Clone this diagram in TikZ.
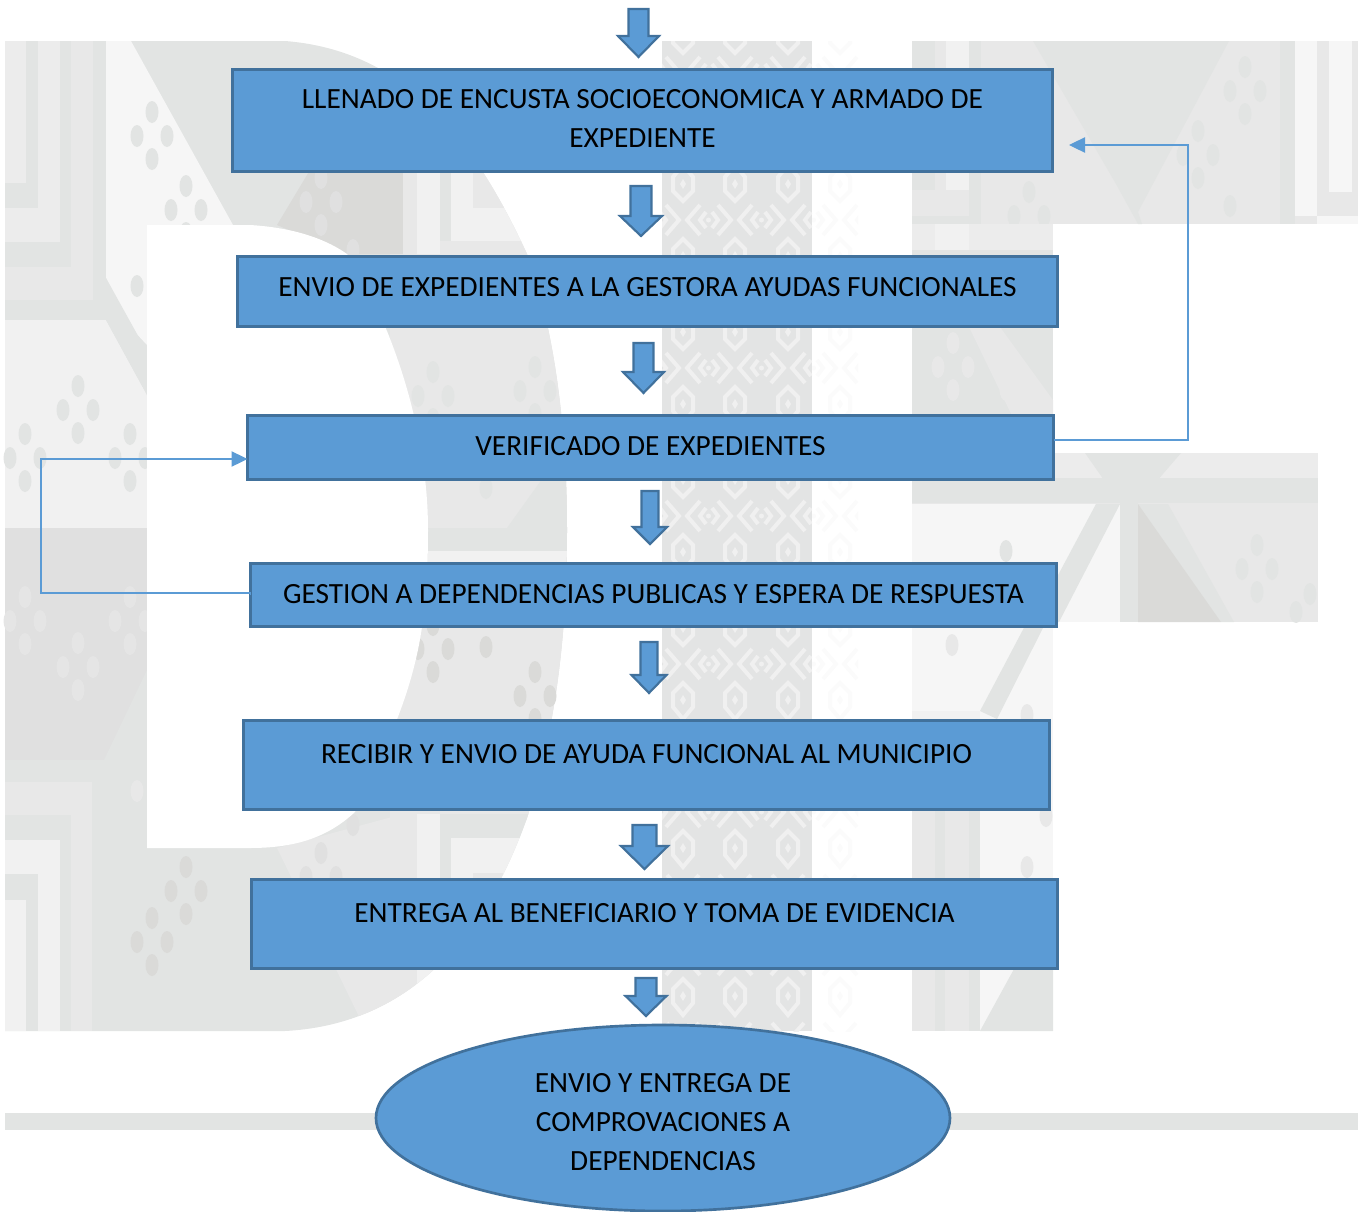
\documentclass[tikz,border=0pt]{standalone}
\usepackage{fontspec}
\setmainfont{Carlito}
\usetikzlibrary{shapes.geometric,arrows.meta}
\definecolor{gA}{HTML}{E2E4E3}
\definecolor{gB}{HTML}{ECECEC}
\definecolor{gC}{HTML}{F6F6F6}
\definecolor{gD}{HTML}{DADAD8}
\definecolor{gE}{HTML}{E8E8E8}
\definecolor{gF}{HTML}{F1F1F1}
\definecolor{gG}{HTML}{E0E0E0}
\definecolor{gH}{HTML}{E5E5E5}
\definecolor{band}{HTML}{E3E4E4}
\definecolor{motif}{HTML}{F0F0F0}
\definecolor{faint}{HTML}{FBFBFB}
\definecolor{boxfill}{HTML}{5B9BD5}
\definecolor{boxline}{HTML}{41719C}
\newcommand\px[1]{#1*0.75pt}
\newcommand\bg[2]{\fill[#1] #2;}
\newcommand\spot[3]{\fill[#1] (#2,#3) ellipse [x radius=6.5,y radius=11];}
\newcommand\clus[3]{\spot{#1}{#2}{#3}\spot{#1}{#2-15}{#3+24}\spot{#1}{#2+15}{#3+24}\spot{#1}{#2}{#3+47}}
\newcommand\blockarrow[6]{\draw[blockarrowstyle] (#1-#2,#4) -- (#1+#2,#4) -- (#1+#2,#5) -- (#1+#3,#5) -- (#1,#6) -- (#1-#3,#5) -- (#1-#2,#5) -- cycle;}
\newcommand\boxtext[2]{\raisebox{\dimexpr#1-6.6pt\relax}[0pt][0pt]{\fontsize{22}{29.25}\selectfont\begin{tabular}{@{}c@{}}#2\end{tabular}}}
\newcommand\motifat[3]{%
 \begin{scope}[shift={(#1,#2)},draw=#3,fill=#3,line width=3pt]
  \draw (-17,-15) -- (-4,0) -- (-17,15);
  \draw (17,-15) -- (4,0) -- (17,15);
  \draw (-23,-8) -- (-17,0) -- (-23,8);
  \draw (23,-8) -- (17,0) -- (23,8);
  \foreach \s in {1,-1}{
   \draw (0,\s*19) -- (10,\s*29) -- (10,\s*43) -- (0,\s*55) -- (-10,\s*43) -- (-10,\s*29) -- cycle;
   \fill (0,\s*31) -- (3,\s*36) -- (0,\s*41) -- (-3,\s*36) -- cycle;
   \draw (-16,\s*63) -- (-6,\s*74);
   \draw (16,\s*63) -- (6,\s*74);
  }
  \fill (-26.5,0) circle [radius=2.5];
 \end{scope}}
\tikzset{
 flowbox/.style={rectangle,draw=boxline,fill=boxfill,line width=2.2pt,inner sep=0pt,outer sep=0pt,text=black},
 flowend/.style={ellipse,draw=boxline,fill=boxfill,line width=2pt,inner sep=0pt,outer sep=0pt,text=black},
 blockarrowstyle/.style={draw=boxline,fill=boxfill,line width=1.6pt,line join=miter},
 feedback/.style={draw=boxfill,line width=0.85pt,-{Triangle[length=12pt,width=11.5pt,color=boxfill]}}
}
\begin{document}
\begin{tikzpicture}[x=0.75pt,y=-0.75pt]
\useasboundingbox (0,0) rectangle (1361,1211);
% ---------- watermark: D
\fill[gA] (5,41) -- (285,41) .. controls (400,50) and (470,130) .. (527,254) .. controls (555,330) and (567,430) .. (567,530) .. controls (567,640) and (555,730) .. (527,818) .. controls (480,950) and (400,1025) .. (285,1031) -- (5,1031) -- cycle;
\begin{scope}
\clip (5,41) -- (285,41) .. controls (400,50) and (470,130) .. (527,254) .. controls (555,330) and (567,430) .. (567,530) .. controls (567,640) and (555,730) .. (527,818) .. controls (480,950) and (400,1025) .. (285,1031) -- (5,1031) -- cycle;
\bg{gE}{(390,254) rectangle (570,820)}
\bg{gA}{(428,528) -- (507,528) -- (570,440) -- (570,563) -- (428,563) -- cycle}
\bg{gF}{(428,551) rectangle (570,563)}
\bg{gD}{(277,225) -- (310,170) -- (403,170) -- (403,254) -- (345,254) -- cycle}
\bg{gE}{(403,172) rectangle (417,254)}
\bg{gF}{(417,172) rectangle (440,254)}
\bg{gA}{(440,172) rectangle (451,254)}
\bg{gF}{(451,172) rectangle (530,254)}
\bg{gE}{(473,172) rectangle (507,208)}
\bg{gE}{(440,241) rectangle (530,254)}
\bg{gE}{(277,848) -- (403,814) -- (403,1031) -- (366,1031) -- cycle}
\bg{gE}{(403,814) rectangle (417,1000)}
\bg{gF}{(417,814) rectangle (440,1000)}
\bg{gA}{(440,814) rectangle (530,838)}
\bg{gF}{(451,838) rectangle (530,1000)}
\bg{gE}{(473,873) rectangle (503,1000)}
\end{scope}
% left stripes top
\bg{gB}{(5,41) rectangle (26,183)}
\bg{gA}{(26,41) rectangle (38,208)}
\bg{gA}{(5,183) rectangle (38,208)}
\bg{gB}{(38,41) rectangle (60,242)}
\bg{gB}{(5,208) rectangle (60,242)}
\bg{gA}{(60,41) rectangle (71,267)}
\bg{gA}{(5,242) rectangle (71,267)}
\bg{gE}{(71,41) rectangle (93,300)}
\bg{gE}{(5,267) rectangle (93,300)}
\bg{gA}{(93,41) rectangle (106,320)}
\bg{gA}{(5,300) rectangle (106,320)}
% light triangle
\bg{gC}{(106,41) -- (131,41) -- (233,225) -- (147,225) -- (147,345) -- (133,330) -- (106,278) -- cycle}
% panels below
\bg{gF}{(5,320) -- (106,320) -- (147,395) -- (147,528) -- (5,528) -- cycle}
\bg{gA}{(106,278) -- (147,352) -- (147,395) -- (106,320) -- cycle}
\bg{gG}{(5,528) rectangle (147,760)}
\bg{gA}{(147,670) -- (104,760) -- (147,760) -- cycle}
\bg{gA}{(5,760) rectangle (147,782)}
\bg{gE}{(5,782) rectangle (92,1031)}
\bg{gA}{(92,782) rectangle (106,1031)}
\bg{gA}{(5,815) rectangle (71,1031)}
\bg{gF}{(5,840) rectangle (60,1031)}
\bg{gA}{(5,874) rectangle (38,1031)}
\bg{gF}{(5,900) rectangle (26,1031)}
% spots in D
\clus{gA}{152}{112}
\clus{gA}{186}{186}
\spot{gA}{137}{286}
\clus{gA}{78}{386}
\clus{gA}{25}{434}
\clus{gA}{130}{434}
\clus{gH}{78}{643}
\clus{gH}{25}{597}
\clus{gH}{130}{597}
\spot{gE}{137}{791}
\clus{gD}{186}{867}
\clus{gD}{152}{918}
\clus{gG}{321}{178}
\spot{gG}{353}{250}
\clus{gG}{321}{853}
\spot{gG}{353}{825}
\clus{gA}{535}{367}
\clus{gA}{433}{372}
\spot{gA}{486}{488}
\clus{gD}{433}{625}
\spot{gD}{486}{647}
\clus{gD}{535}{672}
% inner white of D
\fill[white] (147,225) -- (250,225) .. controls (300,228) and (330,242) .. (347,254) .. controls (385,310) and (428,420) .. (428,530) .. controls (428,650) and (410,700) .. (355,812) .. controls (330,835) and (300,848) .. (250,848) -- (147,848) -- cycle;
% ---------- watermark: central band
\fill[band] (662,41) rectangle (812,1031);
\begin{scope}
\clip (662,41) rectangle (812,1031);
\foreach \yy in {72,220,368,516,664,812,960}{
 \foreach \xx in {683,735,788}{\motifat{\xx}{\yy}{motif}}
}
\end{scope}
\begin{scope}
\clip (812,41) rectangle (858,1031);
\foreach \yy in {72,220,368,516,664,812,960}{\motifat{840}{\yy}{faint}}
\end{scope}
% ---------- watermark: right letters
\bg{gE}{(912,41) rectangle (1358,224)}
\bg{gA}{(912,41) rectangle (935,190)}
\bg{gF}{(946,41) rectangle (969,190)}
\bg{gA}{(969,41) rectangle (981,224)}
\bg{gA}{(912,216) rectangle (969,224)}
\bg{gA}{(1033,41) -- (1229,41) -- (1138,212) -- (1142,224) -- (1138,224) -- (1116,184) -- cycle}
\bg{gA}{(1280,41) rectangle (1295,224)}
\bg{gC}{(1295,41) rectangle (1317,216)}
\bg{gC}{(1317,216) rectangle (1358,224)}
\bg{gE}{(1317,41) rectangle (1329,216)}
\bg{gC}{(1329,41) rectangle (1352,192)}
\bg{gE}{(1329,192) rectangle (1358,216)}
\clus{gA}{1245}{67}
\clus{gA}{1198}{131}
\spot{gA}{1230}{206}
\clus{gA}{1029}{192}
% column
\bg{gA}{(912,224) rectangle (1053,453)}
\bg{gB}{(912,224) rectangle (1053,250)}
\bg{gF}{(935,224) rectangle (969,250)}
\bg{gE}{(969,327) -- (1000,327) -- (1053,400) -- (1053,453) -- (1030,453) -- cycle}
\clus{gE}{953}{343}
\spot{gE}{1006}{390}
% middle bar
\bg{gE}{(912,453) rectangle (1318,622)}
\bg{gA}{(912,478) rectangle (1318,503)}
\bg{gB}{(1053,453) rectangle (1318,478)}
\bg{gA}{(1085,453) -- (1181,453) -- (1138,503) -- (1120,503) -- cycle}
\bg{gC}{(912,504) rectangle (1120,622)}
\bg{gA}{(1096,504) -- (1120,504) -- (1059,622) -- (1033,622) -- cycle}
\bg{gA}{(1120,478) rectangle (1138,622)}
\bg{gA}{(1138,504) -- (1168,504) -- (1234,622) -- (1221,622) -- cycle}
\bg{gD}{(1138,504) -- (1221,622) -- (1138,622) -- cycle}
\clus{gA}{1257}{545}
\spot{gA}{1310}{594}
\spot{gA}{1296}{612}
\spot{gA}{1006}{551}
% lower column
\bg{gC}{(912,622) rectangle (1053,1031)}
\bg{gA}{(1027,622) -- (1046,622) -- (997,719) -- (980,711) -- cycle}
\bg{gE}{(912,711) rectangle (980,1031)}
\bg{gF}{(912,711) rectangle (980,719)}
\bg{gA}{(935,719) rectangle (945,1031)}
\bg{gA}{(969,719) rectangle (980,1031)}
\bg{gA}{(1014,969) -- (1053,969) -- (1053,1031) -- (980,1031) -- cycle}
\spot{gE}{952}{645}
\spot{gE}{1027}{715}
\spot{gE}{1046}{816}
\spot{gE}{1027}{867}
% bottom strip
\bg{gA}{(5,1113) rectangle (1358,1130)}
% ---------- flow
\node[flowbox,minimum width=\px{820},minimum height=\px{102}] (b1) at (642.5,120.5) {\boxtext{1.5pt}{LLENADO DE ENCUSTA SOCIOECONOMICA Y ARMADO DE\\EXPEDIENTE}};
\node[flowbox,minimum width=\px{820},minimum height=\px{70}] (b2) at (647.5,291.5) {\boxtext{3.4pt}{ENVIO DE EXPEDIENTES A LA GESTORA AYUDAS FUNCIONALES}};
\node[flowbox,minimum width=\px{806},minimum height=\px{64}] (b3) at (650.5,447.5) {\boxtext{1.1pt}{VERIFICADO DE EXPEDIENTES}};
\node[flowbox,minimum width=\px{806},minimum height=\px{63}] (b4) at (653.5,595) {\boxtext{0.8pt}{GESTION A DEPENDENCIAS PUBLICAS Y ESPERA DE RESPUESTA}};
\node[flowbox,minimum width=\px{806},minimum height=\px{89}] (b5) at (646.5,765) {\boxtext{8.25pt}{RECIBIR Y ENVIO DE AYUDA FUNCIONAL AL MUNICIPIO}};
\node[flowbox,minimum width=\px{806},minimum height=\px{89}] (b6) at (654.5,924) {\boxtext{8.25pt}{ENTREGA AL BENEFICIARIO Y TOMA DE EVIDENCIA}};
\node[flowend,minimum width=\px{574},minimum height=\px{186}] (e1) at (663,1118) {\boxtext{-3.2pt}{ENVIO Y ENTREGA DE\\COMPROVACIONES A\\DEPENDENCIAS}};
% block arrows
\blockarrow{638.5}{10}{20.5}{9}{36}{57}
\blockarrow{641}{10.5}{21}{186}{216}{236}
\blockarrow{643.5}{10}{20.5}{343}{372}{393}
\blockarrow{650}{8.5}{17}{491}{527}{544}
\blockarrow{649}{8.5}{17.5}{642}{675}{693}
\blockarrow{644.5}{12}{23.5}{825}{846}{869}
\blockarrow{646}{10.5}{20.5}{978}{996}{1016}
% feedback connectors
\coordinate (fb1) at (1069,145);
\coordinate (fb1a) at (1188,145);
\draw[feedback] (b3.east |- 0,440) -| (fb1a) -- (fb1);
\coordinate (fb2a) at (41,459);
\draw[feedback] (b4.west) -- ++(0,-2) -| (fb2a) -- (b3.west |- fb2a);
\end{tikzpicture}
\end{document}
